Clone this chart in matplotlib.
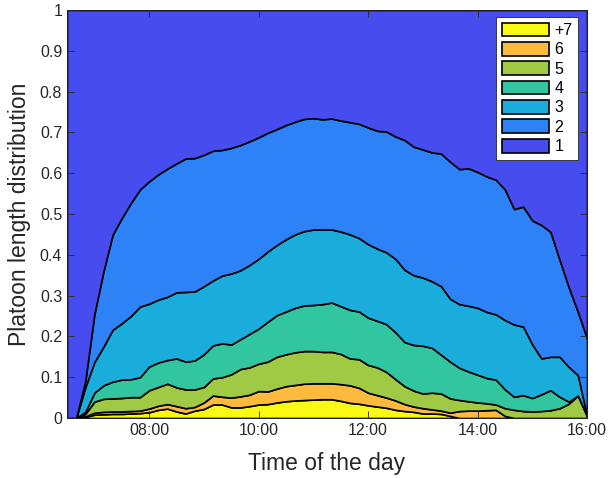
#!/usr/bin/env python3
# platoon_length.py

import matplotlib
matplotlib.use("Agg")
import matplotlib.pyplot as plt
import numpy as np

# time of day in hours, every 10 minutes from 06:30 to 16:00
hours = np.array([
    6.5, 6.667, 6.833, 7.0, 7.167, 7.333, 7.5, 7.667, 7.833, 8.0,
    8.167, 8.333, 8.5, 8.667, 8.833, 9.0, 9.167, 9.333, 9.5, 9.667,
    9.833, 10.0, 10.167, 10.333, 10.5, 10.667, 10.833, 11.0, 11.167, 11.333,
    11.5, 11.667, 11.833, 12.0, 12.167, 12.333, 12.5, 12.667, 12.833, 13.0,
    13.167, 13.333, 13.5, 13.667, 13.833, 14.0, 14.167, 14.333, 14.5, 14.667,
    14.833, 15.0, 15.167, 15.333, 15.5, 15.667, 15.833, 16.0,
])

# share of platoons with length >= k
ge2 = np.array([
    0, 0, 0.09, 0.255, 0.36, 0.449, 0.49, 0.527, 0.56, 0.58,
    0.597, 0.611, 0.624, 0.636, 0.637, 0.645, 0.655, 0.657, 0.662, 0.669,
    0.678, 0.688, 0.699, 0.708, 0.718, 0.726, 0.733, 0.735, 0.732, 0.734,
    0.729, 0.725, 0.721, 0.712, 0.704, 0.702, 0.69, 0.681, 0.665, 0.658,
    0.651, 0.648, 0.628, 0.61, 0.612, 0.603, 0.592, 0.584, 0.56, 0.512,
    0.518, 0.484, 0.473, 0.456, 0.387, 0.32, 0.26, 0.195,
])
ge3 = np.array([
    0, 0, 0.075, 0.137, 0.175, 0.216, 0.232, 0.25, 0.273, 0.28,
    0.29, 0.297, 0.308, 0.309, 0.31, 0.323, 0.337, 0.349, 0.354, 0.362,
    0.375, 0.39, 0.408, 0.424, 0.438, 0.45, 0.458, 0.462, 0.462, 0.462,
    0.457, 0.45, 0.441, 0.426, 0.415, 0.406, 0.39, 0.363, 0.35, 0.344,
    0.335, 0.323, 0.292, 0.279, 0.275, 0.27, 0.26, 0.254, 0.24, 0.229,
    0.224, 0.18, 0.146, 0.15, 0.15, 0.125, 0.105, 0.005,
])
ge4 = np.array([
    0, 0, 0.015, 0.062, 0.08, 0.089, 0.094, 0.095, 0.1, 0.126,
    0.136, 0.142, 0.146, 0.138, 0.141, 0.156, 0.178, 0.183, 0.18, 0.193,
    0.206, 0.219, 0.236, 0.252, 0.261, 0.27, 0.276, 0.277, 0.279, 0.283,
    0.274, 0.265, 0.261, 0.246, 0.238, 0.23, 0.21, 0.186, 0.179, 0.177,
    0.172, 0.155, 0.138, 0.123, 0.114, 0.106, 0.098, 0.094, 0.07, 0.052,
    0.056, 0.049, 0.058, 0.068, 0.052, 0.04, 0.055, 0.005,
])
ge5 = np.array([
    0, 0, 0.01, 0.04, 0.047, 0.048, 0.049, 0.051, 0.051, 0.068,
    0.076, 0.084, 0.075, 0.07, 0.07, 0.076, 0.097, 0.1, 0.107, 0.12,
    0.124, 0.133, 0.138, 0.15, 0.156, 0.161, 0.164, 0.164, 0.162, 0.162,
    0.157, 0.146, 0.144, 0.13, 0.124, 0.113, 0.095, 0.078, 0.067, 0.06,
    0.062, 0.06, 0.048, 0.044, 0.041, 0.038, 0.036, 0.033, 0.024, 0.02,
    0.017, 0.016, 0.017, 0.019, 0.024, 0.035, 0.055, 0.005,
])
ge6 = np.array([
    0, 0, 0.004, 0.013, 0.015, 0.016, 0.016, 0.017, 0.018, 0.023,
    0.03, 0.034, 0.029, 0.024, 0.027, 0.038, 0.055, 0.052, 0.05, 0.053,
    0.057, 0.066, 0.065, 0.072, 0.078, 0.081, 0.084, 0.085, 0.085, 0.085,
    0.083, 0.08, 0.074, 0.062, 0.056, 0.05, 0.043, 0.034, 0.028, 0.024,
    0.021, 0.018, 0.013, 0.017, 0.018, 0.018, 0.019, 0.02, 0.005, 0,
    0, 0, 0, 0, 0, 0, 0, 0,
])
ge7 = np.array([
    0, 0, 0.003, 0.008, 0.009, 0.01, 0.01, 0.011, 0.012, 0.014,
    0.02, 0.023, 0.016, 0.011, 0.018, 0.022, 0.033, 0.033, 0.026, 0.026,
    0.029, 0.033, 0.034, 0.038, 0.041, 0.043, 0.044, 0.045, 0.046, 0.046,
    0.042, 0.037, 0.035, 0.031, 0.028, 0.025, 0.02, 0.017, 0.015, 0.011,
    0.011, 0.01, 0.005, 0, 0, 0, 0, 0, 0, 0,
    0, 0, 0, 0, 0, 0, 0, 0,
])

labels = ["+7", "6", "5", "4", "3", "2", "1"]
colors = ["#f9f914", "#fdba3d", "#a0c944", "#31c5a0", "#1aaddb", "#2d82f7", "#474cee"]
x_ticks = [8, 10, 12, 14, 16]


def plot(ax):
    layers = [
        ge7,
        ge6 - ge7,
        ge5 - ge6,
        ge4 - ge5,
        ge3 - ge4,
        ge2 - ge3,
        1 - ge2,
    ]
    polys = ax.stackplot(hours, layers, colors=colors, labels=labels,
                         edgecolor="black", linewidth=1.2)

    ax.set_xlim(6.5, 16)
    ax.set_ylim(0, 1)
    ax.set_xticks(x_ticks)
    ax.set_xticklabels([f"{h:02d}:00" for h in x_ticks])
    ax.set_yticks(np.round(np.arange(0, 1.01, 0.1), 1))
    ax.set_yticklabels(["0"] + [f"{v:.1f}" for v in np.arange(0.1, 0.95, 0.1)] + ["1"])
    ax.tick_params(direction="in", top=True, right=True, length=5,
                   labelsize=11.5, colors="#262626", width=0.6)
    for sp in ax.spines.values():
        sp.set_color("#262626")
        sp.set_linewidth(0.6)

    ax.set_xlabel("Time of the day", fontsize=16.5, color="#262626", labelpad=10)
    ax.set_ylabel("Platoon length distribution", fontsize=16.5, color="#262626",
                  labelpad=6)

    fig = ax.figure
    # legend lists +7 first, down to 1, as in the layer order
    leg = ax.legend(polys, labels, loc="upper right",
                    bbox_to_anchor=(578 / 608, 1 - 17 / 478),
                    bbox_transform=fig.transFigure, borderaxespad=0,
                    fontsize=11.5, fancybox=False, framealpha=1,
                    edgecolor="#262626", handlelength=3.0, handleheight=0.95,
                    handletextpad=0.3, labelspacing=0.25, borderpad=0.35)
    leg.get_frame().set_linewidth(0.6)


def main():
    plt.rcParams["font.family"] = ["Liberation Sans", "DejaVu Sans"]
    fig = plt.figure(figsize=(6.08, 4.78), dpi=100)
    ax = fig.add_axes([67 / 608, 60 / 478, 520 / 608, 408 / 478])
    plot(ax)
    fig.savefig("out.png", dpi=100)


if __name__ == "__main__":
    main()
